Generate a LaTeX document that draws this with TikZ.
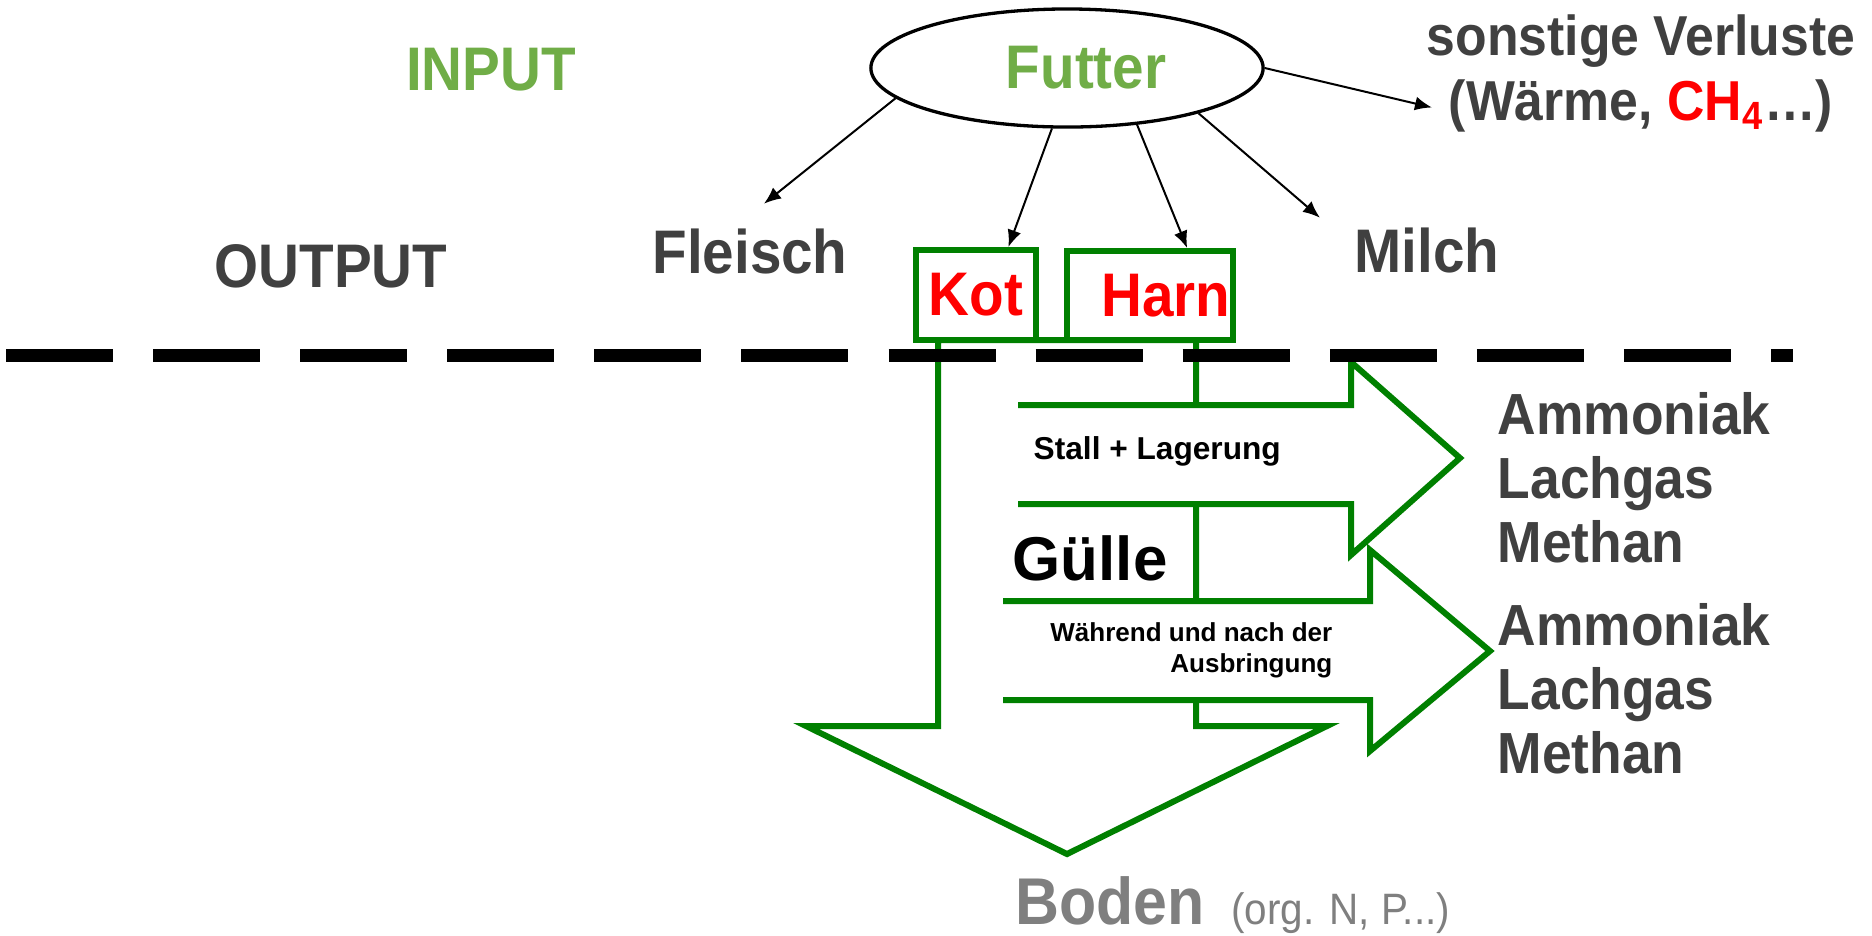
\documentclass[tikz,border=0pt]{standalone}
\usepackage{fontspec}
\setmainfont{Liberation Sans}
\newfontfamily\narrowsf[FakeStretch=0.92]{Liberation Sans}
\usetikzlibrary{shapes.geometric,arrows.meta}

\definecolor{feedgreen}{HTML}{70AD47}
\definecolor{darktext}{HTML}{404040}
\definecolor{flowgreen}{HTML}{008000}
\definecolor{soilgray}{HTML}{7F7F7F}

\begin{document}
\begin{tikzpicture}[x=0.01cm, y=-0.01cm,
		big/.style={inner sep=0pt, font=\narrowsf\bfseries\fontsize{17.5}{21}\selectfont},
		inlabel/.style={big, text=feedgreen, anchor=base},
		outlabel/.style={big, text=darktext, anchor=base},
		pool/.style={big, draw=flowgreen, fill=white, line width=0.06cm, text=red, minimum height=0.9cm},
		flow/.style={draw=flowgreen, fill=white, line width=0.06cm},
		gas/.style={inner sep=0pt, anchor=base west, text=darktext, font=\narrowsf\bfseries\fontsize{16.5}{19}\selectfont},
		note/.style={inner sep=0pt, font=\bfseries\fontsize{9}{11}\selectfont},
		arrow/.style={-{Latex[length=0.17cm,width=0.14cm]}, line width=0.02cm}
	]
	\path[use as bounding box, fill=white] (0,0) rectangle (1872,935);

	% Gülle path: down to the soil
	\draw[flow] (938,340) -- (938,726) -- (806,726) -- (1067,854) -- (1327,726) -- (1196,726) -- (1196,340) -- cycle;

	% Excretion
	\node[pool, minimum width=1.2cm] (kot) at (976,295) {Kot};
	\node[pool, minimum width=1.66cm, minimum height=0.89cm] (harn) at (1150,295.5) {\hspace*{0.32cm}Harn};

	% Losses to the air
	\draw[flow] (1018,405) -- (1351,405) -- (1351,362) -- (1460,458) -- (1351,555) -- (1351,504) -- (1018,504);
	\draw[flow] (1003,601) -- (1370,601) -- (1370,550) -- (1490,651) -- (1370,751) -- (1370,700) -- (1003,700);

	% Input / output border
	\draw[line width=0.13cm, dash pattern=on 1.07cm off 0.4cm] (6,355) -- (1793,355);

	% Input
	\node[inlabel] (input) at (491,90) {INPUT};
	\node[ellipse, draw, line width=0.033cm, minimum width=3.92cm, minimum height=1.18cm, inner sep=0pt,
		text=feedgreen, font=\narrowsf\bfseries\fontsize{17.5}{21}\selectfont] (futter) at (1067,68) {\hspace*{0.38cm}Futter};
	\node[inner sep=0pt, anchor=north, align=center, text=darktext,
		font=\narrowsf\bfseries\fontsize{16}{18.5}\selectfont] (verluste) at (1641,14)
		{sonstige Verluste\\(Wärme, \textcolor{red}{CH\textsubscript{4}}…)};

	% Output
	\node[outlabel] (output) at (331,287) {OUTPUT};
	\node[outlabel] (fleisch) at (750,273) {Fleisch};
	\node[outlabel] (milch) at (1427,272) {Milch};

	\node[note, anchor=base west] (stall) at (1033,459) {Stall + Lagerung};
	\node[inner sep=0pt, anchor=base west, font=\bfseries\fontsize{17.6}{21}\selectfont] (guelle) at (1012,580) {Gülle};
	\node[inner sep=0pt, anchor=north east, align=right, font=\bfseries\fontsize{7.4}{8.8}\selectfont] (spread) at (1333,622)
		{Während und nach der\\Ausbringung};

	\foreach \y/\gas in {434/Ammoniak, 498/Lachgas, 562/Methan, 645/Ammoniak, 709/Lachgas, 773/Methan}
		\node[gas] (gas-\y) at (1497,\y) {\gas};

	\node[big, anchor=base west, text=soilgray, font=\narrowsf\bfseries\fontsize{18.8}{22}\selectfont] (boden) at (1015,924) {Boden};
	\node[inner sep=0pt, anchor=base west, text=soilgray, font=\narrowsf\fontsize{12.5}{15}\selectfont] (bodeninfo)
		at ([xshift=0.25cm]boden.base east) {(org. N, P...)};

	% Arrows
	\draw[arrow] (futter.190) -- ([xshift=0.14cm,yshift=0.24cm]fleisch.north);
	\draw[arrow] (futter.256) -- (kot.56);
	\draw[arrow] (futter.321) -- (harn.52);
	\draw[arrow] (futter.341) -- ([xshift=-0.34cm,yshift=0.09cm]milch.north west);
	\draw[arrow] (futter.east) -- ([xshift=0.06cm,yshift=-0.34cm]verluste.west);
\end{tikzpicture}
\end{document}
